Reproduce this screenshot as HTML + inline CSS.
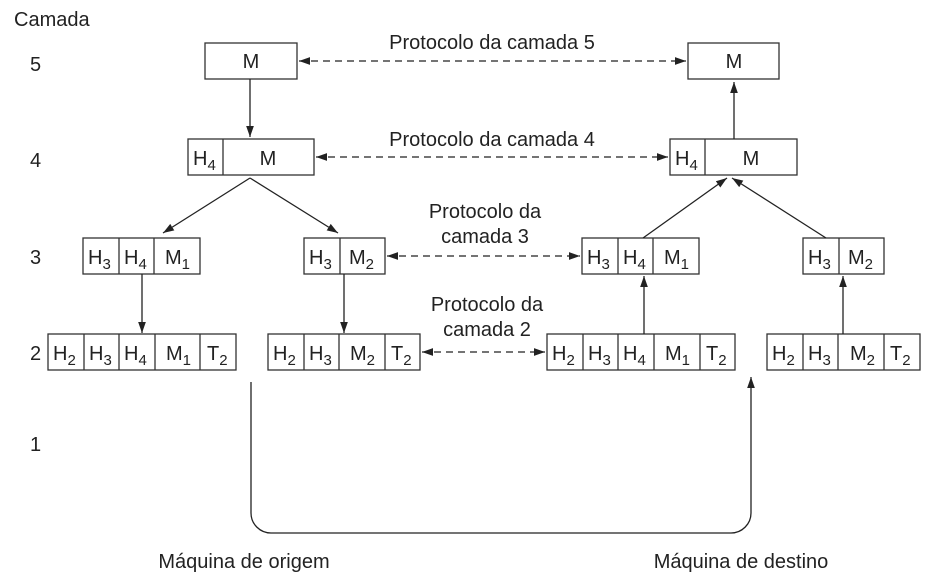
<!DOCTYPE html>
<html><head><meta charset="utf-8"><style>
html,body{margin:0;padding:0;background:#fff}
svg{display:block}
text{font-family:"Liberation Sans",Arial,sans-serif;fill:#222}
.b{font-size:20px}
.s{font-size:15px}
.l{font-size:20px}
</style></head><body>
<svg width="930" height="582" viewBox="0 0 930 582" xmlns="http://www.w3.org/2000/svg">
<defs>
<marker id="a" viewBox="0 0 10 10" refX="10" refY="5" markerWidth="11" markerHeight="11" markerUnits="userSpaceOnUse" orient="auto-start-reverse">
<path d="M0,1.5 L10,5 L0,8.5 z" fill="#222"/></marker>
</defs>
<g fill="none" stroke="#333" stroke-width="1.3">
<rect x="205" y="43" width="92" height="36"/>
<rect x="688" y="43" width="91" height="36"/>
<rect x="188" y="139" width="126" height="36"/><line x1="223" y1="139" x2="223" y2="175"/>
<rect x="670" y="139" width="127" height="36"/><line x1="705" y1="139" x2="705" y2="175"/>
<rect x="83" y="238" width="117" height="36"/><line x1="119" y1="238" x2="119" y2="274"/><line x1="154" y1="238" x2="154" y2="274"/>
<rect x="304" y="238" width="81" height="36"/><line x1="340" y1="238" x2="340" y2="274"/>
<rect x="582" y="238" width="117" height="36"/><line x1="618" y1="238" x2="618" y2="274"/><line x1="653" y1="238" x2="653" y2="274"/>
<rect x="803" y="238" width="81" height="36"/><line x1="839" y1="238" x2="839" y2="274"/>
<rect x="48" y="334" width="188" height="36"/><line x1="84" y1="334" x2="84" y2="370"/><line x1="119" y1="334" x2="119" y2="370"/><line x1="155" y1="334" x2="155" y2="370"/><line x1="200" y1="334" x2="200" y2="370"/>
<rect x="268" y="334" width="152" height="36"/><line x1="304" y1="334" x2="304" y2="370"/><line x1="339" y1="334" x2="339" y2="370"/><line x1="385" y1="334" x2="385" y2="370"/>
<rect x="547" y="334" width="188" height="36"/><line x1="583" y1="334" x2="583" y2="370"/><line x1="618" y1="334" x2="618" y2="370"/><line x1="654" y1="334" x2="654" y2="370"/><line x1="700" y1="334" x2="700" y2="370"/>
<rect x="767" y="334" width="153" height="36"/><line x1="803" y1="334" x2="803" y2="370"/><line x1="838" y1="334" x2="838" y2="370"/><line x1="884" y1="334" x2="884" y2="370"/>
</g>
<g fill="none" stroke="#222" stroke-width="1.3">
<line x1="250" y1="79" x2="250" y2="137" marker-end="url(#a)"/>
<line x1="250" y1="178" x2="163" y2="233" marker-end="url(#a)"/>
<line x1="250" y1="178" x2="338" y2="233" marker-end="url(#a)"/>
<line x1="142" y1="274" x2="142" y2="333" marker-end="url(#a)"/>
<line x1="344" y1="274" x2="344" y2="333" marker-end="url(#a)"/>
<line x1="644" y1="334" x2="644" y2="276" marker-end="url(#a)"/>
<line x1="843" y1="334" x2="843" y2="276" marker-end="url(#a)"/>
<line x1="643" y1="238" x2="727" y2="178" marker-end="url(#a)"/>
<line x1="826" y1="238" x2="732" y2="178" marker-end="url(#a)"/>
<line x1="734" y1="139" x2="734" y2="82" marker-end="url(#a)"/>
<path d="M251,382 V513 A20,20 0 0 0 271,533 H731 A20,20 0 0 0 751,513 V377" marker-end="url(#a)"/>
</g>
<g fill="none" stroke="#222" stroke-width="1.2" stroke-dasharray="7,5">
<line x1="299" y1="61" x2="686" y2="61" marker-start="url(#a)" marker-end="url(#a)"/>
<line x1="316" y1="157" x2="668" y2="157" marker-start="url(#a)" marker-end="url(#a)"/>
<line x1="387" y1="256" x2="580" y2="256" marker-start="url(#a)" marker-end="url(#a)"/>
<line x1="422" y1="352" x2="545" y2="352" marker-start="url(#a)" marker-end="url(#a)"/>
</g>
<g class="l">
<text x="14" y="26">Camada</text>
<text x="30" y="71">5</text>
<text x="30" y="167">4</text>
<text x="30" y="264">3</text>
<text x="30" y="360">2</text>
<text x="30" y="451">1</text>
<text x="492" y="49" text-anchor="middle">Protocolo da camada 5</text>
<text x="492" y="146" text-anchor="middle">Protocolo da camada 4</text>
<text x="485" y="218" text-anchor="middle">Protocolo da</text>
<text x="485" y="243" text-anchor="middle">camada 3</text>
<text x="487" y="311" text-anchor="middle">Protocolo da</text>
<text x="487" y="336" text-anchor="middle">camada 2</text>
<text x="244" y="568" text-anchor="middle">Máquina de origem</text>
<text x="741" y="568" text-anchor="middle">Máquina de destino</text>
</g>
<g class="b" text-anchor="middle">
<text x="251" y="68">M</text>
<text x="734" y="68">M</text>
<text x="268" y="165">M</text>
<text x="751" y="165">M</text>
</g>
<g class="b">
<text x="193" y="165">H<tspan class="s" dy="5">4</tspan></text>
<text x="675" y="165">H<tspan class="s" dy="5">4</tspan></text>
<text x="88" y="264">H<tspan class="s" dy="5">3</tspan></text>
<text x="124" y="264">H<tspan class="s" dy="5">4</tspan></text>
<text x="165" y="264">M<tspan class="s" dy="5">1</tspan></text>
<text x="309" y="264">H<tspan class="s" dy="5">3</tspan></text>
<text x="349" y="264">M<tspan class="s" dy="5">2</tspan></text>
<text x="587" y="264">H<tspan class="s" dy="5">3</tspan></text>
<text x="623" y="264">H<tspan class="s" dy="5">4</tspan></text>
<text x="664" y="264">M<tspan class="s" dy="5">1</tspan></text>
<text x="808" y="264">H<tspan class="s" dy="5">3</tspan></text>
<text x="848" y="264">M<tspan class="s" dy="5">2</tspan></text>
<text x="53" y="360">H<tspan class="s" dy="5">2</tspan></text>
<text x="89" y="360">H<tspan class="s" dy="5">3</tspan></text>
<text x="124" y="360">H<tspan class="s" dy="5">4</tspan></text>
<text x="166" y="360">M<tspan class="s" dy="5">1</tspan></text>
<text x="207" y="360">T<tspan class="s" dy="5">2</tspan></text>
<text x="273" y="360">H<tspan class="s" dy="5">2</tspan></text>
<text x="309" y="360">H<tspan class="s" dy="5">3</tspan></text>
<text x="350" y="360">M<tspan class="s" dy="5">2</tspan></text>
<text x="391" y="360">T<tspan class="s" dy="5">2</tspan></text>
<text x="552" y="360">H<tspan class="s" dy="5">2</tspan></text>
<text x="588" y="360">H<tspan class="s" dy="5">3</tspan></text>
<text x="623" y="360">H<tspan class="s" dy="5">4</tspan></text>
<text x="665" y="360">M<tspan class="s" dy="5">1</tspan></text>
<text x="706" y="360">T<tspan class="s" dy="5">2</tspan></text>
<text x="772" y="360">H<tspan class="s" dy="5">2</tspan></text>
<text x="808" y="360">H<tspan class="s" dy="5">3</tspan></text>
<text x="850" y="360">M<tspan class="s" dy="5">2</tspan></text>
<text x="890" y="360">T<tspan class="s" dy="5">2</tspan></text>
</g>
</svg>
</body></html>
